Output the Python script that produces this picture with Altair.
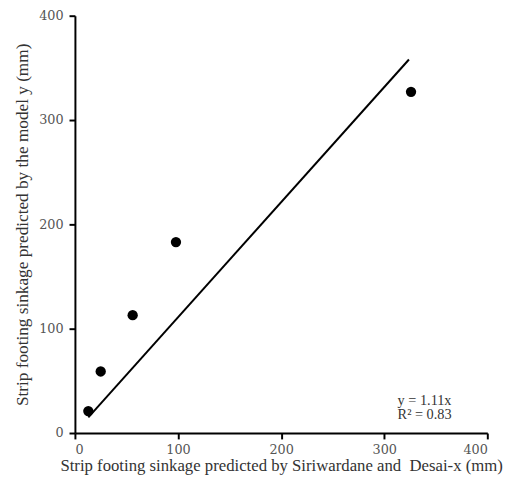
import altair as alt
import pandas as pd

pt_x = [13, 25, 56, 98, 326]
pt_y = [21, 59, 113, 183, 327]

# Fitted line endpoints (y = 1.11x)
line_x = [13, 324]
line_y = [15, 358]

ann_text = ["y = 1.11x", "R\u00b2 = 0.83"]
ann_x = [313, 313]
ann_y = [31, 17]

pts = pd.DataFrame({"x": pt_x, "y": pt_y})
ln = pd.DataFrame({"x": line_x, "y": line_y})
ann = pd.DataFrame({"x": ann_x, "y": ann_y, "t": ann_text})

FONT = "Liberation Serif"
LFONT = "DejaVu Serif"

xs = alt.Scale(domain=[0, 400], nice=False, zero=False)
ys = alt.Scale(domain=[0, 400], nice=False, zero=False)

xax = alt.Axis(values=[0, 100, 200, 300, 400], grid=False, domainColor="black", domainWidth=2,
               tickColor="black", tickWidth=2, tickSize=6, labelFont=LFONT, labelFontSize=13,
               labelColor="#555555", titleFont=FONT, titleFontSize=17, titleFontWeight="normal",
               titleColor="#333333", labelPadding=5, titlePadding=1,
               title="Strip footing sinkage predicted by Siriwardane and\u00a0 Desai-x (mm)")
yax = alt.Axis(values=[0, 100, 200, 300, 400], grid=False, domainColor="black", domainWidth=2,
               tickColor="black", tickWidth=2, tickSize=6, labelFont=LFONT, labelFontSize=13,
               labelColor="#555555", titleFont=FONT, titleFontSize=17.5, titleFontWeight="normal",
               titleColor="#333333", labelPadding=6, titlePadding=7,
               title="Strip footing sinkage predicted by the model y (mm)")

points = alt.Chart(pts).mark_circle(size=110, color="black", opacity=1).encode(
    x=alt.X("x:Q", scale=xs, axis=xax),
    y=alt.Y("y:Q", scale=ys, axis=yax),
)
line = alt.Chart(ln).mark_line(color="black", strokeWidth=2).encode(
    x=alt.X("x:Q", scale=xs),
    y=alt.Y("y:Q", scale=ys),
)
text = alt.Chart(ann).mark_text(align="left", baseline="middle", font=FONT, fontSize=14.5,
                                color="#333333").encode(
    x=alt.X("x:Q", scale=xs),
    y=alt.Y("y:Q", scale=ys),
    text="t:N",
)

chart = alt.layer(line, points, text).properties(
    width=419, height=424,
    autosize=alt.AutoSizeParams(type="none"),
    padding={"left": 68, "top": 4, "right": 20, "bottom": 50},
).configure_view(stroke=None)

chart.save("out.html", embed_options={"renderer": "svg", "actions": False})
